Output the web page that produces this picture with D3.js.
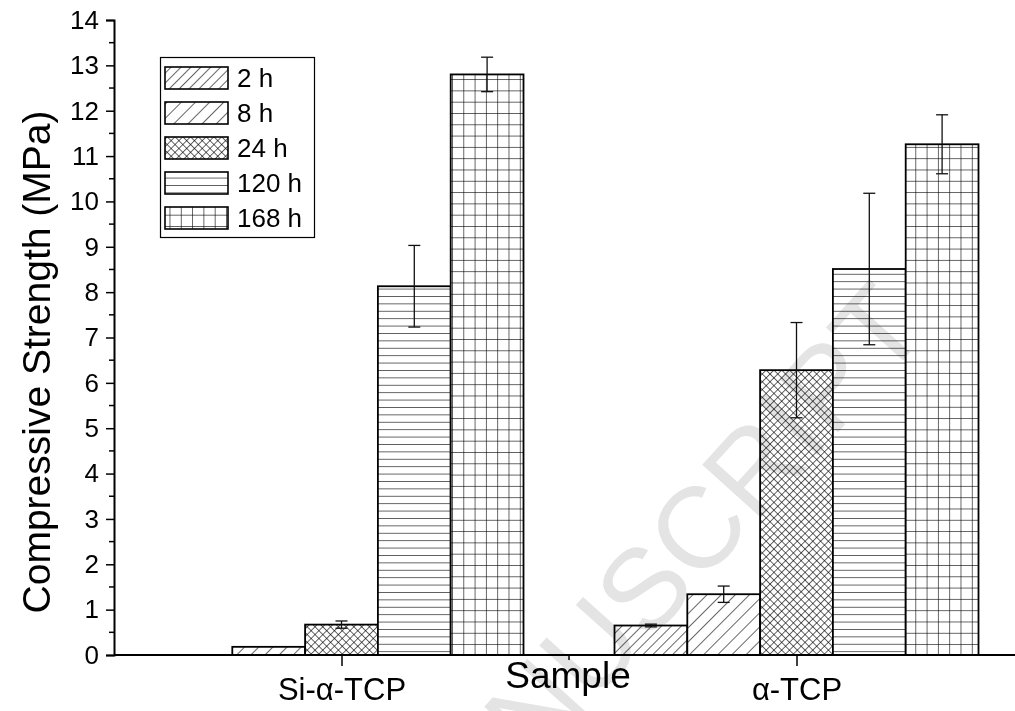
<!DOCTYPE html>
<html>
<head>
<meta charset="utf-8">
<script src="https://cdn.jsdelivr.net/npm/d3@7"></script>
<style>
  html, body { margin: 0; padding: 0; background: #fff; }
  svg { display: block; font-family: "Liberation Sans", Arial, sans-serif; }
</style>
</head>
<body>
<svg id="chart" width="1015" height="711"></svg>
<script>
// data
var categories = ["Si-\u03b1-TCP", "\u03b1-TCP"];
var seriesNames = ["2 h", "8 h", "24 h", "120 h", "168 h"];
var siValues = [0, 0.18, 0.67, 8.13, 12.8];
var siErrors = [0, 0, 0.08, 0.9, 0.38];
var aValues = [0.65, 1.34, 6.28, 8.51, 11.26];
var aErrors = [0.03, 0.18, 1.05, 1.67, 0.65];
var yTicks = [0, 1, 2, 3, 4, 5, 6, 7, 8, 9, 10, 11, 12, 13, 14];

var svg = d3.select('#chart');

var x = d3.scaleLinear().domain([0.5, 2.5]).range([114, 1024]);
var y = d3.scaleLinear().domain([0, 14]).range([655, 20]);
var barW = 0.16;

// hatch patterns
var defs = svg.append('defs');
function linePattern(id, size, angle, cross) {
  var p = defs.append('pattern')
      .attr('id', id)
      .attr('patternUnits', 'userSpaceOnUse')
      .attr('width', size).attr('height', size)
      .attr('patternTransform', 'rotate(' + angle + ')');
  p.append('rect').attr('width', size).attr('height', size).attr('fill', '#fff');
  p.append('line').attr('x1', 0).attr('y1', 0).attr('x2', 0).attr('y2', size)
      .attr('stroke', '#000').attr('stroke-width', 1.2);
  if (cross) {
    p.append('line').attr('x1', 0).attr('y1', 0).attr('x2', size).attr('y2', 0)
        .attr('stroke', '#000').attr('stroke-width', 1.2);
  }
}
linePattern('p0', 7, 45, false);
linePattern('p1', 10, 45, false);
linePattern('p2', 5.5, 45, true);
linePattern('p3', 7.4, 90, false);
linePattern('p4', 11.3, 0, true);

var groups = [
  { cat: 1, values: siValues, errors: siErrors },
  { cat: 2, values: aValues, errors: aErrors }
];

var bars = [];
groups.forEach(function(g) {
  g.values.forEach(function(v, i) {
    bars.push({ cat: g.cat, i: i, v: v, e: g.errors[i] });
  });
});
function bx(d) { return d.cat + (d.i - 2) * barW; }

svg.append('g').selectAll('rect')
  .data(bars.filter(function(d) { return d.v > 0; }))
  .enter().append('rect')
    .attr('x', function(d) { return x(bx(d) - barW / 2); })
    .attr('y', function(d) { return y(d.v); })
    .attr('width', function(d) { return x(bx(d) + barW / 2) - x(bx(d) - barW / 2); })
    .attr('height', function(d) { return y(0) - y(d.v); })
    .attr('fill', function(d) { return 'url(#p' + d.i + ')'; })
    .attr('stroke', '#000')
    .attr('stroke-width', 1.8);

// error bars
var eb = svg.append('g').attr('stroke', '#111').attr('stroke-width', 1.3);
bars.filter(function(d) { return d.e > 0; }).forEach(function(d) {
  var cx = x(bx(d));
  eb.append('line').attr('x1', cx).attr('x2', cx)
    .attr('y1', y(d.v + d.e)).attr('y2', y(d.v - d.e));
  [d.v + d.e, d.v - d.e].forEach(function(t) {
    eb.append('line').attr('x1', cx - 6).attr('x2', cx + 6)
      .attr('y1', y(t)).attr('y2', y(t));
  });
});

// y axis
var yAxis = svg.append('g').attr('transform', 'translate(114,0)')
  .call(d3.axisLeft(y).tickValues(yTicks).tickSize(8).tickPadding(7).tickFormat(d3.format('d')));
yAxis.select('.domain').attr('stroke-width', 2);
yAxis.selectAll('.tick line').attr('stroke-width', 1.5);
yAxis.selectAll('text').attr('font-size', 26).attr('fill', '#000')
  .attr('font-family', '"Liberation Sans", Arial, sans-serif');
yAxis.append('g').selectAll('line')
  .data(d3.range(0.5, 14, 1))
  .enter().append('line')
    .attr('x1', -5).attr('x2', 0)
    .attr('y1', function(d) { return y(d); }).attr('y2', function(d) { return y(d); })
    .attr('stroke', '#000').attr('stroke-width', 1.5);

// x axis
var xAxis = svg.append('g').attr('transform', 'translate(0,655)')
  .call(d3.axisBottom(x).tickValues([1, 2]).tickSize(11).tickPadding(12)
    .tickFormat(function(d) { return categories[d - 1]; }));
xAxis.select('.domain').attr('stroke-width', 2).attr('d', 'M114,0H1024');
xAxis.selectAll('.tick line').attr('stroke-width', 1.5);
xAxis.selectAll('text').attr('font-size', 31).attr('fill', '#000')
  .attr('font-family', '"Liberation Sans", Arial, sans-serif');
xAxis.append('line').attr('x1', x(1.5)).attr('x2', x(1.5)).attr('y1', 0).attr('y2', 5)
  .attr('stroke', '#000').attr('stroke-width', 1.5);

// axis titles
svg.append('text')
  .attr('transform', 'translate(50,362) rotate(-90)')
  .attr('text-anchor', 'middle')
  .attr('font-size', 39)
  .text('Compressive Strength (MPa)');
svg.append('text')
  .attr('x', 568).attr('y', 688)
  .attr('text-anchor', 'middle')
  .attr('font-size', 37)
  .text('Sample');

// legend
var lg = svg.append('g');
lg.append('rect').attr('x', 160.5).attr('y', 57.5).attr('width', 154).attr('height', 180)
  .attr('fill', '#fff').attr('stroke', '#000').attr('stroke-width', 1.2);
seriesNames.forEach(function(name, i) {
  var yy = 67 + i * 35;
  lg.append('rect').attr('x', 165).attr('y', yy).attr('width', 63).attr('height', 22)
    .attr('fill', 'url(#p' + i + ')').attr('stroke', '#000').attr('stroke-width', 1.6);
  lg.append('text').attr('x', 237).attr('y', yy + 20).attr('font-size', 26).text(name);
});

// faint watermark
svg.append('text')
  .attr('transform', 'translate(930,330) rotate(-48)')
  .attr('text-anchor', 'end')
  .attr('font-size', 115)
  .attr('fill', '#e4e4e4')
  .style('mix-blend-mode', 'multiply')
  .text('ACCEPTED MANUSCRIPT');
</script>
</body>
</html>
